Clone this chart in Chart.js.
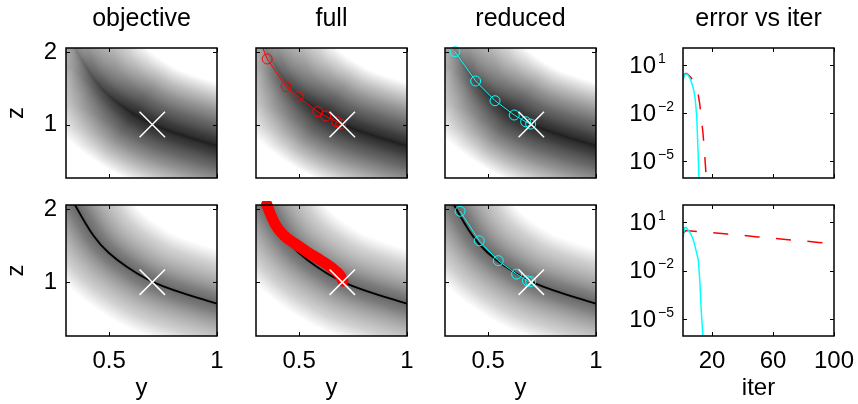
<!DOCTYPE html>
<html>
<head>
<meta charset="utf-8">
<script src="https://cdn.jsdelivr.net/npm/chart.js@4.4.1/dist/chart.umd.min.js"></script>
<style>
  body { margin: 0; background: #fff; }
  #fig { position: relative; width: 858px; height: 404px; overflow: hidden; background: #fff; }
  #fig canvas { position: absolute; }
</style>
</head>
<body>
<div id="fig"></div>
<script>
// ---- values ----
const titles = ['objective', 'full', 'reduced', 'error vs iter'];

// valley of the objective (darkest line of the gray map)
const valleyY = [0.342, 0.396, 0.458, 0.535, 0.628, 0.70, 0.797, 0.921, 1.0];
const valleyZ = [2.06, 1.77, 1.51, 1.305, 1.12, 1.0, 0.89, 0.775, 0.705];
// how dark the valley is along its length (top row / bottom row)
const shadeTop = [0.35, 0.5, 0.65, 0.85, 1, 1, 1, 1, 1];
const shadeBottom = [1, 1, 1, 1, 1, 1, 1, 1, 1];

// solution marker
const solY = [0.7];
const solZ = [1.0];

// iterates, top row
const fullY1 = [0.30, 0.352, 0.440, 0.496, 0.586, 0.623, 0.674, 0.693];
const fullZ1 = [2.30, 1.908, 1.524, 1.385, 1.178, 1.118, 1.039, 1.007];
const reducedY1 = [0.346, 0.442, 0.532, 0.621, 0.674, 0.697];
const reducedZ1 = [2.009, 1.603, 1.330, 1.132, 1.039, 1.007];
// iterates, bottom row
const fullY2 = [0.350, 0.365, 0.390, 0.430, 0.480, 0.540, 0.600, 0.650, 0.690, 0.703];
const fullZ2 = [2.067, 1.950, 1.790, 1.640, 1.530, 1.410, 1.300, 1.200, 1.090, 1.014];
const reducedY2 = [0.370, 0.459, 0.547, 0.632, 0.682, 0.697];
const reducedZ2 = [1.974, 1.568, 1.295, 1.111, 1.018, 1.007];

// error vs iteration
const iterFull1 = [1, 2, 3, 4, 5, 6, 7, 8, 9, 10, 11, 12, 13, 14, 15, 16, 17];
const errFull1 = [1.4, 2.6, 3.0, 2.7, 2.2, 1.7, 1.25, 0.85, 0.55, 0.32, 0.14, 0.035, 5e-3, 7e-4, 5e-5, 2e-6, 5e-8];
const iterRed1 = [1, 2, 3, 4, 5, 6, 7, 8, 9, 10, 11, 12];
const errRed1 = [1.2, 2.3, 2.8, 2.5, 1.8, 1.15, 0.6, 0.28, 0.075, 6e-3, 2e-5, 1e-8];
const iterFull2 = [1, 3, 8, 20, 30, 40, 50, 60, 70, 80, 90, 100];
const errFull2 = [2.0, 3.0, 2.7, 2.2, 1.8, 1.5, 1.2, 1.0, 0.81, 0.68, 0.55, 0.46];
const iterRed2 = [1, 2, 3, 4, 5, 6, 7, 8, 9, 10, 11, 12, 13, 14, 15];
const errRed2 = [1.1, 4.5, 4.8, 3.6, 2.6, 1.9, 1.2, 0.65, 0.28, 0.12, 0.045, 2.5e-3, 3e-5, 1e-6, 1e-9];

// axes
const yRange = [0.3, 1.0];
const zRange = [0.26, 2.06];
const yTicks = [0.5, 1];
const zTicks = [1, 2];
const iterRange = [1, 100];
const iterTicks = [20, 60, 100];
const errExp = [1, -2, -5];
const errRange = [-6.06, 2.06];

// ---- layout ----
const FONT = '"Liberation Sans", Arial, sans-serif';
const panelLeft = [66, 256, 445, 683];
const panelTop = [48, 205];
const panelW = 151;
const panelH = [130, 131];
const M = { left: 66, top: 48, right: 34, bottom: 68 };

const heat = [
  { width: 120, layers: 100, alpha: 0.024, power: 2.3, core: 0 },
  { width: 104, layers: 90, alpha: 0.0135, power: 1.8, core: 1.8 }
];

const pts = (xs, ys) => xs.map((v, i) => ({ x: v, y: ys[i] }));

function tracePath(ctx, px, py) {
  ctx.beginPath();
  ctx.moveTo(px[0], py[0]);
  for (let i = 1; i < px.length - 1; i++) {
    ctx.quadraticCurveTo(px[i], py[i], (px[i] + px[i + 1]) / 2, (py[i] + py[i + 1]) / 2);
  }
  ctx.lineTo(px[px.length - 1], py[py.length - 1]);
}

function heatPlugin(row) {
  return {
    id: 'heat',
    beforeDatasetsDraw(chart) {
      const { ctx, chartArea: a, scales: { x, y } } = chart;
      const px = valleyY.map(v => x.getPixelForValue(v));
      const py = valleyZ.map(v => y.getPixelForValue(v));
      const shade = row === 0 ? shadeTop : shadeBottom;
      const h = heat[row];
      ctx.save();
      ctx.beginPath();
      ctx.rect(a.left, a.top, a.width, a.height);
      ctx.clip();
      ctx.lineCap = 'round';
      ctx.lineJoin = 'round';
      const n = px.length - 1;
      for (let k = 0; k < h.layers; k++) {
        const g = ctx.createLinearGradient(px[0], py[0], px[n], py[n]);
        shade.forEach((s, i) => g.addColorStop(i / (shade.length - 1), `rgba(0,0,0,${h.alpha * s})`));
        ctx.strokeStyle = g;
        ctx.lineWidth = h.width * Math.pow(1 - k / h.layers, h.power);
        tracePath(ctx, px, py);
        ctx.stroke();
      }
      if (h.core) {
        ctx.strokeStyle = '#000';
        ctx.lineWidth = h.core;
        tracePath(ctx, px, py);
        ctx.stroke();
      }
      ctx.restore();
    }
  };
}

// box and inward ticks, like the original axes
const framePlugin = {
  id: 'frame',
  afterDraw(chart) {
    const { ctx, chartArea: a, scales: { x, y } } = chart;
    ctx.save();
    ctx.strokeStyle = '#000';
    ctx.lineWidth = 1;
    ctx.beginPath();
    x.ticks.forEach(t => {
      const p = Math.round(x.getPixelForValue(t.value)) + 0.5;
      ctx.moveTo(p, a.top); ctx.lineTo(p, a.top + 4);
      ctx.moveTo(p, a.bottom); ctx.lineTo(p, a.bottom - 4);
    });
    y.ticks.forEach(t => {
      const p = Math.round(y.getPixelForValue(t.value)) + 0.5;
      ctx.moveTo(a.left, p); ctx.lineTo(a.left + 4, p);
      ctx.moveTo(a.right, p); ctx.lineTo(a.right - 4, p);
    });
    ctx.stroke();
    ctx.lineWidth = 1.5;
    ctx.strokeRect(a.left, a.top, a.width, a.height);
    ctx.restore();
  }
};

// 10^n labels for the log axis
const expLabels = {
  id: 'expLabels',
  afterDraw(chart) {
    const { ctx, chartArea: a, scales: { y } } = chart;
    ctx.save();
    ctx.fillStyle = '#000';
    ctx.textBaseline = 'middle';
    errExp.forEach(e => {
      const p = y.getPixelForValue(Math.pow(10, e));
      ctx.font = `24px ${FONT}`;
      ctx.textAlign = 'right';
      ctx.fillText('10', a.left - 27, p + 1);
      ctx.font = `14px ${FONT}`;
      ctx.textAlign = 'left';
      ctx.fillText(String(e).replace('-', '\u2212'), a.left - 25, p - 6);
    });
    ctx.restore();
  }
};

function makePanel(col, row, datasets) {
  const cv = document.createElement('canvas');
  const W = M.left + panelW + M.right;
  const H = M.top + panelH[row] + M.bottom;
  cv.width = W; cv.height = H;
  cv.style.width = W + 'px'; cv.style.height = H + 'px';
  cv.style.left = (panelLeft[col] - M.left) + 'px';
  cv.style.top = (panelTop[row] - M.top) + 'px';
  document.getElementById('fig').appendChild(cv);

  const isLog = col === 3;
  const plugins = [framePlugin];
  if (isLog) plugins.push(expLabels); else plugins.unshift(heatPlugin(row));

  new Chart(cv, {
    type: 'line',
    data: { datasets },
    plugins,
    options: {
      responsive: false,
      animation: false,
      devicePixelRatio: 1,
      layout: { padding: { top: row === 0 ? 0 : M.top, right: M.right, left: 0, bottom: 0 } },
      plugins: {
        legend: { display: false },
        tooltip: { enabled: false },
        title: {
          display: row === 0,
          text: titles[col],
          fullSize: false,
          color: '#000',
          font: { family: FONT, size: 25, weight: 'normal' },
          padding: { top: 4, bottom: 14 }
        }
      },
      scales: {
        x: {
          type: 'linear',
          min: isLog ? iterRange[0] : yRange[0],
          max: isLog ? iterRange[1] : yRange[1],
          grid: { display: false, drawTicks: false },
          border: { display: false },
          ticks: {
            display: row === 1, color: '#000', font: { family: FONT, size: 24 }, padding: 11,
            maxRotation: 0, autoSkip: false, callback: v => String(v)
          },
          afterBuildTicks: s => { s.ticks = (isLog ? iterTicks : yTicks).map(v => ({ value: v })); },
          afterFit: s => { s.height = M.bottom; },
          title: { display: row === 1, text: isLog ? 'iter' : 'y', color: '#000', font: { family: FONT, size: 24 }, padding: { top: 0, bottom: 1 } }
        },
        y: {
          type: isLog ? 'logarithmic' : 'linear',
          min: isLog ? Math.pow(10, errRange[0]) : zRange[0],
          max: isLog ? Math.pow(10, errRange[1]) : zRange[1],
          grid: { display: false, drawTicks: false },
          border: { display: false },
          ticks: { display: col === 0, color: '#000', font: { family: FONT, size: 24 }, padding: 9, autoSkip: false, callback: v => String(v) },
          afterBuildTicks: s => { s.ticks = (isLog ? errExp.map(e => Math.pow(10, e)) : zTicks).map(v => ({ value: v })); },
          afterFit: s => { s.width = M.left; },
          title: { display: col === 0, text: 'z', color: '#000', font: { family: FONT, size: 24 }, padding: { top: 2, bottom: 0 } }
        }
      }
    }
  });
}

const solution = {
  data: pts(solY, solZ), showLine: false, pointStyle: 'crossRot', pointRadius: 18,
  pointBorderColor: '#fff', pointBorderWidth: 1.5, clip: 0
};
const iterates = (xs, ys, color, clip) => ({
  data: pts(xs, ys), borderColor: color, borderWidth: 1, tension: 0,
  pointStyle: 'circle', pointRadius: 5, pointBorderWidth: 1,
  pointBorderColor: color, pointBackgroundColor: 'rgba(0,0,0,0)', clip
});
const errLine = (xs, ys, color, dash) => ({
  data: pts(xs, ys), borderColor: color, borderWidth: 1.5, borderDash: dash,
  pointRadius: 0, tension: 0, clip: 0
});

// top row
makePanel(0, 0, [solution]);
makePanel(1, 0, [solution, iterates(fullY1, fullZ1, '#ff0000', 0)]);
makePanel(2, 0, [solution, iterates(reducedY1, reducedZ1, '#00ffff', 3)]);
makePanel(3, 0, [errLine(iterRed1, errRed1, '#00ffff', []), errLine(iterFull1, errFull1, '#ff0000', [15, 16.5])]);

// bottom row: the full method takes many tiny steps, drawn as a thick red trail
makePanel(0, 1, [solution]);
makePanel(1, 1, [solution, Object.assign(iterates(fullY2, fullZ2, '#ff0000', 4), {
  borderWidth: 11, borderCapStyle: 'round', borderJoinStyle: 'round', cubicInterpolationMode: 'monotone',
  pointRadius: [5, 0, 0, 0, 0, 0, 0, 0, 0, 0]
})]);
makePanel(2, 1, [solution, iterates(reducedY2, reducedZ2, '#00ffff', 3)]);
makePanel(3, 1, [errLine(iterRed2, errRed2, '#00ffff', []), errLine(iterFull2, errFull2, '#ff0000', [15, 16.5])]);
</script>
</body>
</html>
